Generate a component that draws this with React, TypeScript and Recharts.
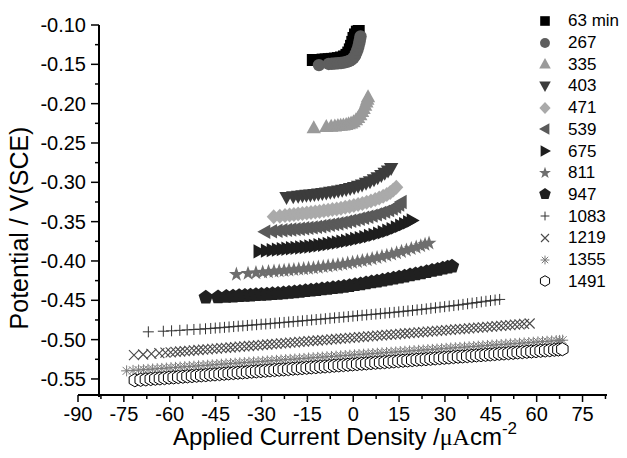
import React from 'react';
import { ScatterChart, Scatter, XAxis, YAxis, Legend, Label } from 'recharts';

type Pt = [number, number];

// ---- data (x: applied current density µA cm^-2, y: potential V vs SCE) ----
const S63: Pt[] = [
  [-13.2, -0.1445], [-10.0, -0.144], [-9.0, -0.1438], [-8.0, -0.1435], [-7.0, -0.1431], [-6.0, -0.1427],
  [-5.0, -0.1421], [-4.0, -0.1413], [-3.0, -0.14], [-2.2, -0.138], [-1.6, -0.135], [-1.1, -0.131],
  [-0.7, -0.1265], [-0.3, -0.1215], [0.1, -0.1165], [0.6, -0.112], [1.2, -0.1085], [1.8, -0.1064],
];
const S267: Pt[] = [
  [-11.2, -0.151], [-8.0, -0.1495], [-7.0, -0.1493], [-6.0, -0.149], [-5.0, -0.1487], [-4.0, -0.1483],
  [-3.0, -0.1477], [-2.0, -0.1468], [-1.2, -0.1456], [-0.5, -0.144], [0.1, -0.1418], [0.6, -0.139],
  [1.0, -0.1355], [1.4, -0.1315], [1.7, -0.1272], [2.0, -0.1228], [2.2, -0.1185], [2.4, -0.1145],
];
const S335: Pt[] = [
  [-12.9, -0.2305], [-8.8, -0.2292], [-7.2, -0.2287], [-6.0, -0.2283], [-5.0, -0.2279], [-4.1, -0.2276],
  [-3.2, -0.2271], [-2.3, -0.2265], [-1.5, -0.2257], [-0.7, -0.2247], [0.1, -0.223], [0.9, -0.2205],
  [1.6, -0.2175], [2.3, -0.214], [2.9, -0.21], [3.4, -0.206], [3.9, -0.202], [4.3, -0.198],
  [4.6, -0.1945], [4.85, -0.1912],
];
const S403: Pt[] = [
  [-21.8, -0.3192], [-19.6, -0.3184], [-18.0, -0.3177], [-16.6, -0.3171], [-15.3, -0.3166], [-14.0, -0.3161],
  [-12.7, -0.3156], [-11.4, -0.315], [-10.1, -0.3143], [-8.8, -0.3135], [-7.5, -0.3127], [-6.2, -0.3119],
  [-4.9, -0.3111], [-3.6, -0.3102], [-2.3, -0.3091], [-1.0, -0.3079], [0.3, -0.3066], [1.6, -0.305],
  [2.9, -0.3033], [4.2, -0.3013], [5.5, -0.2992], [6.8, -0.2968], [8.0, -0.2942], [9.2, -0.2914],
  [10.3, -0.2885], [11.4, -0.2855], [12.4, -0.2825],
];
const S471: Pt[] = [
  [-26.0, -0.3438], [-24.0, -0.343], [-22.3, -0.3422], [-20.8, -0.3416], [-19.4, -0.341], [-18.0, -0.3404],
  [-16.6, -0.3397], [-15.2, -0.3391], [-13.8, -0.3384], [-12.4, -0.3377], [-11.0, -0.337], [-9.6, -0.3362],
  [-8.2, -0.3354], [-6.8, -0.3346], [-5.4, -0.3338], [-4.0, -0.3329], [-2.6, -0.3318], [-1.2, -0.3307],
  [0.2, -0.3295], [1.6, -0.3282], [3.0, -0.3269], [4.4, -0.3255], [5.8, -0.3238], [7.2, -0.322],
  [8.5, -0.32], [9.8, -0.3178], [11.0, -0.3155], [12.1, -0.3128], [13.1, -0.3097], [14.1, -0.3062],
];
const S539: Pt[] = [
  [-28.9, -0.3629], [-26.7, -0.3622], [-24.9, -0.3616], [-23.3, -0.361], [-21.8, -0.3605], [-20.4, -0.36],
  [-19.0, -0.3595], [-17.6, -0.359], [-16.2, -0.3584], [-14.8, -0.3579], [-13.4, -0.3573], [-12.0, -0.3566],
  [-10.6, -0.3558], [-9.2, -0.355], [-7.8, -0.3541], [-6.4, -0.3532], [-5.0, -0.3523], [-3.6, -0.3512],
  [-2.2, -0.3501], [-0.8, -0.3489], [0.6, -0.3477], [2.0, -0.3464], [3.4, -0.3451], [4.8, -0.3438],
  [6.2, -0.3424], [7.6, -0.3408], [9.0, -0.3391], [10.3, -0.3373], [11.6, -0.3354], [12.8, -0.3333],
  [13.9, -0.331], [14.9, -0.3283], [15.7, -0.325],
];
const S675: Pt[] = [
  [-30.8, -0.3878], [-28.4, -0.3869], [-26.5, -0.3862], [-24.8, -0.3856], [-23.2, -0.385], [-21.7, -0.3844],
  [-20.2, -0.3839], [-18.7, -0.3833], [-17.2, -0.3828], [-15.7, -0.3822], [-14.2, -0.3816], [-12.7, -0.3809],
  [-11.2, -0.3801], [-9.7, -0.3793], [-8.2, -0.3784], [-6.7, -0.3775], [-5.2, -0.3766], [-3.7, -0.3756],
  [-2.2, -0.3745], [-0.7, -0.3733], [0.8, -0.3721], [2.3, -0.3709], [3.8, -0.3697], [5.3, -0.3683],
  [6.8, -0.3668], [8.3, -0.3652], [9.8, -0.3634], [11.3, -0.3615], [12.7, -0.3596], [14.1, -0.3575],
  [15.5, -0.3553], [16.8, -0.3531], [18.1, -0.3508], [19.3, -0.3485],
];
const S811: Pt[] = [
  [-38.2, -0.4171], [-34.4, -0.4159], [-31.8, -0.4151], [-29.6, -0.4144], [-27.7, -0.4138], [-25.9, -0.4132],
  [-24.2, -0.4127], [-22.6, -0.4122], [-21.0, -0.4116], [-19.4, -0.4111], [-17.8, -0.4105], [-16.2, -0.41],
  [-14.6, -0.4094], [-13.0, -0.4089], [-11.4, -0.4081], [-9.8, -0.4073], [-8.2, -0.4065], [-6.6, -0.4057],
  [-5.0, -0.405], [-3.4, -0.4041], [-1.8, -0.4031], [-0.2, -0.402], [1.4, -0.4009], [3.0, -0.3998],
  [4.6, -0.3987], [6.2, -0.3973], [7.8, -0.3959], [9.4, -0.3945], [11.0, -0.393], [12.6, -0.3915],
  [14.2, -0.3899], [15.8, -0.3881], [17.4, -0.3863], [19.0, -0.3845], [20.6, -0.3827], [22.1, -0.3809],
  [23.5, -0.3791], [24.8, -0.3775],
];
const S947: Pt[] = [
  [-48.2, -0.4464], [-44.2, -0.4458], [-41.5, -0.4454], [-39.3, -0.445], [-37.3, -0.4445], [-35.4, -0.4441],
  [-33.6, -0.4436], [-31.8, -0.4432], [-30.0, -0.4427], [-28.2, -0.4423], [-26.4, -0.4418], [-24.6, -0.4414],
  [-22.8, -0.4409], [-21.0, -0.4403], [-19.2, -0.4396], [-17.4, -0.4389], [-15.6, -0.4381], [-13.8, -0.4374],
  [-12.0, -0.4366], [-10.2, -0.4358], [-8.4, -0.435], [-6.6, -0.4342], [-4.8, -0.4334], [-3.0, -0.4325],
  [-1.2, -0.4315], [0.6, -0.4304], [2.4, -0.4293], [4.2, -0.4282], [6.0, -0.427], [7.8, -0.4258],
  [9.6, -0.4246], [11.4, -0.4233], [13.2, -0.422], [15.0, -0.4207], [16.8, -0.4194], [18.6, -0.4181],
  [20.4, -0.4168], [22.2, -0.4154], [24.0, -0.4139], [25.8, -0.4124], [27.6, -0.4109], [29.3, -0.4094],
  [30.9, -0.408], [32.3, -0.4068],
];
const S1083: Pt[] = [
  [-67.0, -0.4901], [-62.1, -0.4893], [-59.4, -0.4888], [-56.7, -0.4882], [-54.3, -0.4876], [-52.1, -0.4871],
  [-50.1, -0.4867], [-48.3, -0.4862], [-46.6, -0.4858], [-45.1, -0.4853], [-43.6, -0.4849], [-42.1, -0.4844],
  [-40.6, -0.4839], [-39.1, -0.4834], [-37.6, -0.4829], [-36.1, -0.4825], [-34.6, -0.482], [-33.1, -0.4815],
  [-31.6, -0.481], [-30.1, -0.4805], [-28.6, -0.4801], [-27.1, -0.4796], [-25.6, -0.4791], [-24.1, -0.4786],
  [-22.6, -0.4781], [-21.1, -0.4776], [-19.6, -0.4771], [-18.1, -0.4767], [-16.6, -0.4761], [-15.1, -0.4756],
  [-13.6, -0.475], [-12.1, -0.4745], [-10.6, -0.474], [-9.1, -0.4734], [-7.6, -0.4729], [-6.1, -0.4723],
  [-4.6, -0.4718], [-3.1, -0.4713], [-1.6, -0.4707], [-0.1, -0.4702], [1.4, -0.4696], [2.9, -0.4691],
  [4.4, -0.4685], [5.9, -0.468], [7.4, -0.4675], [8.9, -0.4669], [10.4, -0.4664], [11.9, -0.4658],
  [13.4, -0.4653], [14.9, -0.4647], [16.4, -0.4641], [17.9, -0.4635], [19.4, -0.4629], [20.9, -0.4622],
  [22.4, -0.4616], [23.9, -0.4609], [25.4, -0.4602], [26.9, -0.4595], [28.4, -0.4588], [29.9, -0.4581],
  [31.4, -0.4574], [32.9, -0.4567], [34.4, -0.456], [35.9, -0.4552], [37.4, -0.4544], [38.9, -0.4536],
  [40.4, -0.4528], [41.9, -0.452], [43.4, -0.4512], [44.9, -0.4504], [46.4, -0.4497], [47.9, -0.4489],
];
const S1219: Pt[] = [
  [-71.7, -0.5198], [-68.7, -0.5189], [-66.0, -0.518], [-63.4, -0.5172], [-61.4, -0.5166], [-59.7, -0.5161],
  [-58.1, -0.5156], [-56.6, -0.5151], [-55.1, -0.5146], [-53.6, -0.5142], [-52.1, -0.5137], [-50.6, -0.5132],
  [-49.1, -0.5128], [-47.6, -0.5123], [-46.1, -0.5118], [-44.6, -0.5114], [-43.1, -0.5109], [-41.6, -0.5104],
  [-40.1, -0.51], [-38.6, -0.5095], [-37.1, -0.509], [-35.6, -0.5086], [-34.1, -0.5081], [-32.6, -0.5076],
  [-31.1, -0.5072], [-29.6, -0.5067], [-28.1, -0.5062], [-26.6, -0.5058], [-25.1, -0.5053], [-23.6, -0.5048],
  [-22.1, -0.5044], [-20.6, -0.5039], [-19.1, -0.5034], [-17.6, -0.503], [-16.1, -0.5025], [-14.6, -0.502],
  [-13.1, -0.5016], [-11.6, -0.5011], [-10.1, -0.5006], [-8.6, -0.5002], [-7.1, -0.4997], [-5.6, -0.4992],
  [-4.1, -0.4988], [-2.6, -0.4983], [-1.1, -0.4978], [0.4, -0.4974], [1.9, -0.4969], [3.4, -0.4964],
  [4.9, -0.496], [6.4, -0.4955], [7.9, -0.495], [9.4, -0.4946], [10.9, -0.4941], [12.4, -0.4936],
  [13.9, -0.4932], [15.4, -0.4927], [16.9, -0.4922], [18.4, -0.4918], [19.9, -0.4913], [21.4, -0.4908],
  [22.9, -0.4904], [24.4, -0.4899], [25.9, -0.4894], [27.4, -0.489], [28.9, -0.4885], [30.4, -0.488],
  [31.9, -0.4876], [33.4, -0.4871], [34.9, -0.4866], [36.4, -0.4862], [37.9, -0.4857], [39.4, -0.4852],
  [40.9, -0.4848], [42.4, -0.4843], [43.9, -0.4838], [45.4, -0.4834], [46.9, -0.4829], [48.4, -0.4824],
  [49.9, -0.482], [51.4, -0.4815], [52.9, -0.481], [54.4, -0.4806], [55.9, -0.4801], [57.7, -0.4795],
];
const S1355: Pt[] = [
  [-74.1, -0.5397], [-72.0, -0.5391], [-70.2, -0.5386], [-68.6, -0.5382], [-67.1, -0.5378], [-65.6, -0.5374],
  [-64.1, -0.537], [-62.6, -0.5366], [-61.1, -0.5362], [-59.6, -0.5357], [-58.1, -0.5353], [-56.6, -0.5349],
  [-55.1, -0.5345], [-53.6, -0.5341], [-52.1, -0.5337], [-50.6, -0.5333], [-49.1, -0.5329], [-47.6, -0.5325],
  [-46.1, -0.5321], [-44.6, -0.5316], [-43.1, -0.5312], [-41.6, -0.5308], [-40.1, -0.5304], [-38.6, -0.53],
  [-37.1, -0.5296], [-35.6, -0.5292], [-34.1, -0.5288], [-32.6, -0.5284], [-31.1, -0.528], [-29.6, -0.5276],
  [-28.1, -0.5271], [-26.6, -0.5267], [-25.1, -0.5263], [-23.6, -0.5259], [-22.1, -0.5255], [-20.6, -0.5251],
  [-19.1, -0.5247], [-17.6, -0.5243], [-16.1, -0.5239], [-14.6, -0.5234], [-13.1, -0.523], [-11.6, -0.5226],
  [-10.1, -0.5222], [-8.6, -0.5218], [-7.1, -0.5214], [-5.6, -0.521], [-4.1, -0.5206], [-2.6, -0.5202],
  [-1.1, -0.5198], [0.4, -0.5193], [1.9, -0.5189], [3.4, -0.5185], [4.9, -0.5181], [6.4, -0.5177],
  [7.9, -0.5173], [9.4, -0.5169], [10.9, -0.5165], [12.4, -0.5161], [13.9, -0.5157], [15.4, -0.5152],
  [16.9, -0.5148], [18.4, -0.5144], [19.9, -0.514], [21.4, -0.5136], [22.9, -0.5132], [24.4, -0.5128],
  [25.9, -0.5124], [27.4, -0.512], [28.9, -0.5116], [30.4, -0.5111], [31.9, -0.5107], [33.4, -0.5103],
  [34.9, -0.5099], [36.4, -0.5095], [37.9, -0.5091], [39.4, -0.5087], [40.9, -0.5083], [42.4, -0.5079],
  [43.9, -0.5074], [45.4, -0.507], [46.9, -0.5066], [48.4, -0.5062], [49.9, -0.5058], [51.4, -0.5054],
  [52.9, -0.505], [54.4, -0.5046], [55.9, -0.5042], [57.4, -0.5038], [58.9, -0.5033], [60.4, -0.5029],
  [61.9, -0.5025], [63.4, -0.5021], [64.9, -0.5017], [66.4, -0.5013], [67.5, -0.501], [68.5, -0.5007],
];
const S1491: Pt[] = [
  [-71.4, -0.5516], [-69.5, -0.5511], [-67.8, -0.5506], [-66.2, -0.5501], [-64.7, -0.5497], [-63.2, -0.5493],
  [-61.7, -0.5489], [-60.2, -0.5484], [-58.7, -0.548], [-57.2, -0.5476], [-55.7, -0.5472], [-54.2, -0.5467],
  [-52.7, -0.5463], [-51.2, -0.5459], [-49.7, -0.5455], [-48.2, -0.5451], [-46.7, -0.5446], [-45.2, -0.5442],
  [-43.7, -0.5438], [-42.2, -0.5434], [-40.7, -0.5429], [-39.2, -0.5425], [-37.7, -0.5421], [-36.2, -0.5417],
  [-34.7, -0.5413], [-33.2, -0.5408], [-31.7, -0.5404], [-30.2, -0.54], [-28.7, -0.5396], [-27.2, -0.5391],
  [-25.7, -0.5387], [-24.2, -0.5383], [-22.7, -0.5379], [-21.2, -0.5375], [-19.7, -0.537], [-18.2, -0.5366],
  [-16.7, -0.5362], [-15.2, -0.5358], [-13.7, -0.5353], [-12.2, -0.5349], [-10.7, -0.5345], [-9.2, -0.5341],
  [-7.7, -0.5337], [-6.2, -0.5332], [-4.7, -0.5328], [-3.2, -0.5324], [-1.7, -0.532], [-0.2, -0.5315],
  [1.3, -0.5311], [2.8, -0.5307], [4.3, -0.5303], [5.8, -0.5298], [7.3, -0.5294], [8.8, -0.529],
  [10.3, -0.5286], [11.8, -0.5282], [13.3, -0.5277], [14.8, -0.5273], [16.3, -0.5269], [17.8, -0.5265],
  [19.3, -0.526], [20.8, -0.5256], [22.3, -0.5252], [23.8, -0.5248], [25.3, -0.5244], [26.8, -0.5239],
  [28.3, -0.5235], [29.8, -0.5231], [31.3, -0.5227], [32.8, -0.5222], [34.3, -0.5218], [35.8, -0.5214],
  [37.3, -0.521], [38.8, -0.5206], [40.3, -0.5201], [41.8, -0.5197], [43.3, -0.5193], [44.8, -0.5189],
  [46.3, -0.5184], [47.8, -0.518], [49.3, -0.5176], [50.8, -0.5172], [52.3, -0.5168], [53.8, -0.5163],
  [55.3, -0.5159], [56.8, -0.5155], [58.3, -0.5151], [59.8, -0.5146], [61.3, -0.5142], [62.8, -0.5138],
  [64.3, -0.5134], [65.8, -0.5129], [67.1, -0.5126], [68.4, -0.5122],
];

const SERIES_NAMES = ['63 min.', '267', '335', '403', '471', '539', '675', '811', '947', '1083', '1219', '1355', '1491'];
const SERIES_DATA: Pt[][] = [S63, S267, S335, S403, S471, S539, S675, S811, S947, S1083, S1219, S1355, S1491];
const SERIES_SHAPES = ['square', 'circle', 'triUp', 'triDown', 'diamond', 'triLeft', 'triRight', 'star', 'pentagon', 'plus', 'cross', 'asterisk', 'hexagon'];
const SERIES_COLORS = ['#000000', '#5e5e5e', '#9a9a9a', '#3c3c3c', '#aaaaaa', '#5a5a5a', '#1e1e1e', '#6e6e6e', '#202020', '#333333', '#4a4a4a', '#7a7a7a', '#000000'];

const X_MAJOR = [-90, -75, -60, -45, -30, -15, 0, 15, 30, 45, 60, 75];
const X_MINOR = [-82.5, -67.5, -52.5, -37.5, -22.5, -7.5, 7.5, 22.5, 37.5, 52.5, 67.5, 82.5];
const Y_MAJOR = [-0.55, -0.5, -0.45, -0.4, -0.35, -0.3, -0.25, -0.2, -0.15, -0.1];
const Y_MINOR = [-0.525, -0.475, -0.425, -0.375, -0.325, -0.275, -0.225, -0.175, -0.125];
const X_DOMAIN: [number, number] = [-90, 83];
const Y_DOMAIN: [number, number] = [-0.5704, -0.1];

// ---- layout / style constants ----
const W = 627;
const H = 458;
const PLOT_BOTTOM = 395;
const AXIS_PX = 99; // left axis sits at x = -83.2 on the current axis
const FONT = "'Liberation Sans', Arial, Helvetica, sans-serif";
const SERIF = "'Liberation Serif', 'Times New Roman', serif";

const poly = (cx: number, cy: number, k: number, pts: number[][]) =>
  pts.map(([a, b]) => `${cx + a * k},${cy + b * k}`).join(' ');

const regular = (n: number, R: number, start: number) => {
  const out: number[][] = [];
  for (let i = 0; i < n; i++) {
    const a = ((start + (360 / n) * i) * Math.PI) / 180;
    out.push([R * Math.cos(a), R * Math.sin(a)]);
  }
  return out;
};
const starPts = (() => {
  const out: number[][] = [];
  for (let i = 0; i < 10; i++) {
    const r = i % 2 === 0 ? 7.8 : 3.1;
    const a = ((-90 + 36 * i) * Math.PI) / 180;
    out.push([r * Math.cos(a), r * Math.sin(a)]);
  }
  return out;
})();
const PENTA = regular(5, 7.6, -90);
const HEXA = regular(6, 6.6, -90);

function Marker({ kind, cx, cy, color, k = 1 }: { kind: string; cx: number; cy: number; color: string; k?: number }) {
  switch (kind) {
    case 'square':
      return <rect x={cx - 6 * k} y={cy - 6 * k} width={12 * k} height={12 * k} fill={color} />;
    case 'circle':
      return <circle cx={cx} cy={cy} r={6.2 * k} fill={color} />;
    case 'triUp':
      return <polygon points={poly(cx, cy, k, [[0, -7.5], [7.2, 5.5], [-7.2, 5.5]])} fill={color} />;
    case 'triDown':
      return <polygon points={poly(cx, cy, k, [[0, 7.5], [7.2, -5.5], [-7.2, -5.5]])} fill={color} />;
    case 'triLeft':
      return <polygon points={poly(cx, cy, k, [[-7.5, 0], [5.5, -7.2], [5.5, 7.2]])} fill={color} />;
    case 'triRight':
      return <polygon points={poly(cx, cy, k, [[7.5, 0], [-5.5, -7.2], [-5.5, 7.2]])} fill={color} />;
    case 'diamond':
      return <polygon points={poly(cx, cy, k, [[0, -7.5], [7, 0], [0, 7.5], [-7, 0]])} fill={color} />;
    case 'star':
      return <polygon points={poly(cx, cy, k, starPts)} fill={color} />;
    case 'pentagon':
      return <polygon points={poly(cx, cy, k, PENTA)} fill={color} />;
    case 'plus':
      return (
        <path d={`M${cx - 5.5 * k},${cy}H${cx + 5.5 * k}M${cx},${cy - 5.5 * k}V${cy + 5.5 * k}`} stroke={color} strokeWidth={1} fill="none" />
      );
    case 'cross':
      return (
        <path
          d={`M${cx - 5 * k},${cy - 5 * k}L${cx + 5 * k},${cy + 5 * k}M${cx - 5 * k},${cy + 5 * k}L${cx + 5 * k},${cy - 5 * k}`}
          stroke={color}
          strokeWidth={1.1}
          fill="none"
        />
      );
    case 'asterisk':
      return (
        <path
          d={`M${cx - 5.5 * k},${cy}H${cx + 5.5 * k}M${cx},${cy - 5.5 * k}V${cy + 5.5 * k}M${cx - 4 * k},${cy - 4 * k}L${cx + 4 * k},${cy + 4 * k}M${cx - 4 * k},${cy + 4 * k}L${cx + 4 * k},${cy - 4 * k}`}
          stroke={color}
          strokeWidth={1}
          fill="none"
        />
      );
    case 'hexagon':
      return <polygon points={poly(cx, cy, k, HEXA)} fill="#ffffff" stroke={color} strokeWidth={1} />;
    default:
      return null;
  }
}

const renderXTick = (props: any) => {
  const { x, payload } = props;
  const v = payload.value as number;
  const major = X_MAJOR.includes(v);
  return (
    <g>
      <line x1={x} x2={x} y1={PLOT_BOTTOM} y2={PLOT_BOTTOM + (major ? 7 : 4)} stroke="#000" strokeWidth={1.5} />
      {major && (
        <text x={x} y={421} textAnchor="middle" fontSize={20} fontFamily={FONT} fill="#000">
          {v}
        </text>
      )}
    </g>
  );
};

const renderYTick = (props: any) => {
  const { y, payload } = props;
  const v = payload.value as number;
  const major = Y_MAJOR.includes(v);
  const isTop = v === Y_DOMAIN[1];
  return (
    <g>
      {isTop && <line x1={AXIS_PX} x2={AXIS_PX} y1={y} y2={PLOT_BOTTOM + 2} stroke="#000" strokeWidth={2} />}
      <line x1={AXIS_PX - (major ? 8 : 4)} x2={AXIS_PX} y1={y} y2={y} stroke="#000" strokeWidth={1.5} />
      {major && (
        <text x={AXIS_PX - 13} y={y} dy="0.35em" textAnchor="end" fontSize={20} fontFamily={FONT} fill="#000">
          {v.toFixed(2)}
        </text>
      )}
    </g>
  );
};

const renderXTitle = () => (
  <text x={345} y={445} textAnchor="middle" fontSize={24} fontFamily={FONT} fill="#000">
    Applied Current Density /<tspan fontFamily={SERIF}>μA</tspan>cm
    <tspan fontSize={17} dy={-11}>-2</tspan>
  </text>
);

const renderYTitle = () => (
  <text x={28} y={228} transform="rotate(-90, 28, 228)" textAnchor="middle" fontSize={25} fontFamily={FONT} fill="#000">
    Potential / V(SCE)
  </text>
);

const renderLegend = () => (
  <div style={{ position: 'relative', width: 97, height: 290 }}>
    {SERIES_NAMES.map((name, i) => (
      <div
        key={name}
        style={{ position: 'absolute', left: 0, top: i * 21.7, height: 21.7, display: 'flex', alignItems: 'center', whiteSpace: 'nowrap' }}
      >
        <svg width={14} height={14} style={{ display: 'block' }}>
          <Marker kind={SERIES_SHAPES[i]} cx={7} cy={7} color={SERIES_COLORS[i]} k={0.8} />
        </svg>
        <span style={{ marginLeft: 16, fontSize: 17, fontFamily: FONT, color: '#000', lineHeight: 1 }}>{name}</span>
      </div>
    ))}
  </div>
);

export default function App() {
  return (
    <div style={{ margin: -8, width: W, height: H, background: '#fff' }}>
      <ScatterChart width={W} height={H} margin={{ top: 25, right: 20, left: 18, bottom: 33 }}>
        <XAxis
          type="number"
          dataKey="x"
          domain={X_DOMAIN}
          allowDataOverflow
          ticks={[...X_MAJOR, ...X_MINOR]}
          interval={0}
          tick={renderXTick}
          tickLine={false}
          axisLine={{ stroke: '#000', strokeWidth: 2 }}
          height={30}
        >
          <Label content={renderXTitle} />
        </XAxis>
        <YAxis
          type="number"
          dataKey="y"
          domain={Y_DOMAIN}
          allowDataOverflow
          ticks={[...Y_MAJOR, ...Y_MINOR]}
          interval={0}
          tick={renderYTick}
          tickLine={false}
          axisLine={false}
          width={60}
        >
          <Label content={renderYTitle} />
        </YAxis>
        {SERIES_DATA.map((pts, i) => (
          <Scatter
            key={SERIES_NAMES[i]}
            name={SERIES_NAMES[i]}
            data={pts.map(([x, y]) => ({ x, y }))}
            fill={SERIES_COLORS[i]}
            isAnimationActive={false}
            shape={(p: any) => <Marker kind={SERIES_SHAPES[i]} cx={p.cx} cy={p.cy} color={SERIES_COLORS[i]} />}
          />
        ))}
        <Legend
          layout="vertical"
          align="center"
          verticalAlign="middle"
          content={renderLegend}
          wrapperStyle={{ left: 538, top: 10, width: 97, height: 290 }}
        />
      </ScatterChart>
    </div>
  );
}
